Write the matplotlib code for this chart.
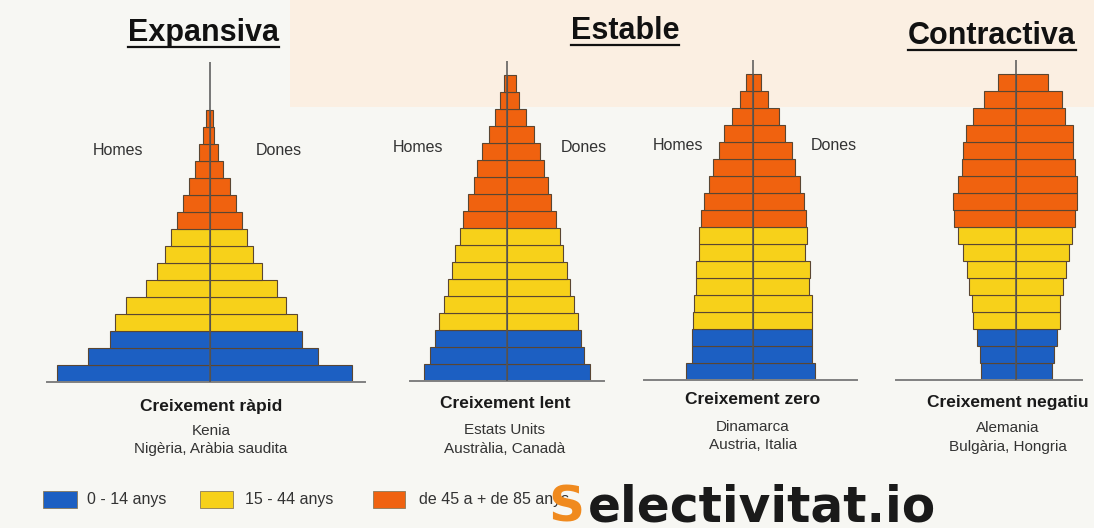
import matplotlib
matplotlib.use('Agg')
import matplotlib.pyplot as plt
from matplotlib.patches import Rectangle
from matplotlib.lines import Line2D
from matplotlib.transforms import IdentityTransform

plt.rcParams['font.family'] = ['Liberation Sans', 'DejaVu Sans']

# half widths of each age band (bottom bar first), men left / women right
rapid_homes = [153, 122, 100, 95, 84, 64, 53, 45, 39, 33, 27, 21, 15, 11, 7, 4]
rapid_dones = [142, 108, 92, 87, 76, 67, 52, 43, 37, 32, 26, 20, 13, 8, 4, 3]

lent_homes = [83, 77, 72, 68, 63, 59, 55, 52, 47, 44, 39, 33, 30, 25, 18, 12, 7, 3]
lent_dones = [83, 77, 74, 71, 67, 63, 60, 56, 53, 49, 44, 41, 37, 33, 27, 19, 12, 9]

zero_homes = [67, 61, 61, 60, 59, 57, 57, 54, 54, 52, 49, 44, 40, 34, 29, 21, 13, 7]
zero_dones = [62, 59, 59, 59, 59, 56, 57, 52, 54, 53, 51, 47, 42, 39, 32, 26, 15, 8]

neg_homes = [35, 36, 39, 43, 44, 47, 49, 53, 58, 62, 63, 58, 54, 53, 50, 43, 32, 18]
neg_dones = [36, 38, 41, 44, 44, 47, 50, 53, 56, 59, 61, 61, 59, 57, 57, 49, 46, 32]

titles = ['Expansiva', 'Estable', 'Contractiva']
creixement = ['Creixement ràpid', 'Creixement lent', 'Creixement zero', 'Creixement negatiu']
paisos = [['Kenia', 'Nigèria, Aràbia saudita'],
          ['Estats Units', 'Austràlia, Canadà'],
          ['Dinamarca', 'Austria, Italia'],
          ['Alemania', 'Bulgària, Hongria']]
legend_labels = ['0 - 14 anys', '15 - 44 anys', 'de 45 a + de 85 anys']

BLUE = '#1c5fc2'
YELLOW = '#f7d11a'
ORANGE = '#f0620f'
EDGE = '#5a4632'

W, H = 1094, 528
fig = plt.figure(figsize=(W / 100, H / 100), dpi=100)
fig.patch.set_facecolor('#f7f7f3')

def fx(x):
    return x / W

def fy(y):
    return 1 - y / H

# peach band behind the top titles
fig.add_artist(Rectangle((fx(290), fy(107)), 1 - fx(290), 107 / H,
                         transform=fig.transFigure, facecolor='#fbefe2',
                         edgecolor='none', zorder=0))

BAR = 17      # px per age band
R = 175       # px half width of each pyramid axes
TOP = 18.8    # bands up to the top of the centre line

def pyramid(cx, base, homes, dones, line_ext):
    ax = fig.add_axes([fx(cx - R), fy(base), 2 * R / W, TOP * BAR / H])
    ax.set_xlim(-R, R)
    ax.set_ylim(0, TOP)
    ax.axis('off')
    n = len(homes)
    cols = [BLUE] * 3 + [YELLOW] * 6 + [ORANGE] * (n - 9)
    y = [i + 0.5 for i in range(n)]
    ax.barh(y, [-h for h in homes], height=1, color=cols, edgecolor=EDGE, linewidth=0.8)
    ax.barh(y, dones, height=1, color=cols, edgecolor=EDGE, linewidth=0.8)
    ax.axvline(0, color='#555555', linewidth=1.1, zorder=3)
    ax.plot(line_ext, [0, 0], color='#808080', linewidth=1.4, clip_on=False)
    return ax

pyramid(210, 381.5, rapid_homes, rapid_dones, [-163, 155])
pyramid(506.5, 380.5, lent_homes, lent_dones, [-97, 97])
pyramid(752.5, 380, zero_homes, zero_dones, [-109, 104])
pyramid(1016, 379.5, neg_homes, neg_dones, [-120, 66])

# Homes / Dones
for x, y, s in [(118, 150, 'Homes'), (279, 150, 'Dones'),
                (418, 148, 'Homes'), (584, 148, 'Dones'),
                (678, 145, 'Homes'), (834, 145, 'Dones')]:
    fig.text(fx(x), fy(y), s, ha='center', va='center', fontsize=11.5, color='#333333')

# titles with underline
title_pos = [(203, 41), (625, 39), (992, 44)]
title_txt = []
for (x, y), s in zip(title_pos, titles):
    t = fig.text(fx(x), fy(y), s, ha='center', va='baseline', fontsize=22,
                 fontweight='bold', color='#111111')
    title_txt.append((t, y))

# labels under the pyramids
under = [(211, 407, 431, 449), (505, 404, 430, 449),
         (753, 400, 427, 445), (1008, 402, 428, 447)]
for (x, y0, y1, y2), c, p in zip(under, creixement, paisos):
    fig.text(fx(x), fy(y0), c, ha='center', va='center', fontsize=12.5,
             fontweight='bold', color='#1a1a1a')
    fig.text(fx(x), fy(y1), p[0], ha='center', va='center', fontsize=11, color='#333333')
    fig.text(fx(x), fy(y2), p[1], ha='center', va='center', fontsize=11, color='#333333')

# legend
leg = [(43, 77, 87, BLUE), (200, 233, 245, YELLOW), (373, 405, 419, ORANGE)]
for (x0, x1, xt, col), s in zip(leg, legend_labels):
    fig.add_artist(Rectangle((fx(x0), fy(508)), (x1 - x0) / W, 17 / H,
                             transform=fig.transFigure, facecolor=col,
                             edgecolor='#8a7a5a', linewidth=0.6))
    fig.text(fx(xt), fy(499.5), s, ha='left', va='center', fontsize=11.5, color='#333333')

# logo
fig.text(fx(548), fy(521), 'S', ha='left', va='baseline', fontsize=36,
         fontweight='bold', color='#f08a1e', family='DejaVu Sans', zorder=5)
fig.text(fx(588), fy(521), 'electivitat.io', ha='left', va='baseline', fontsize=35,
         fontweight='bold', color='#1a1a1a', family='DejaVu Sans', zorder=5)

fig.canvas.draw()
for t, y in title_txt:
    bb = t.get_window_extent()
    fig.add_artist(Line2D([bb.x0, bb.x1], [H - y - 6, H - y - 6],
                          transform=IdentityTransform(), color='#111111', linewidth=1.6))

fig.savefig('out.png', dpi=100, facecolor=fig.get_facecolor())
